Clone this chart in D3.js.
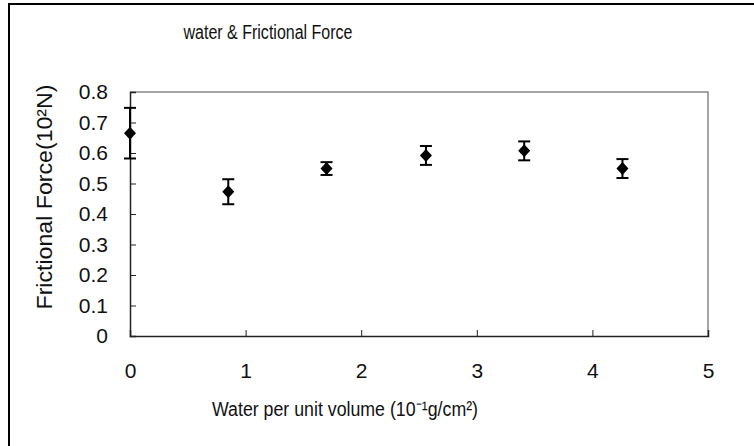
<!DOCTYPE html>
<html>
<head>
<meta charset="utf-8">
<script src="https://cdn.jsdelivr.net/npm/d3@7"></script>
<style>
  body { margin: 0; background: #fff; }
  svg text { font-family: "Liberation Sans Narrow", "Liberation Sans", Arial, sans-serif; fill: #111; }
</style>
</head>
<body>
<div id="chart"></div>
<script>
// data
const waterValues = [0, 0.85, 1.7, 2.56, 3.41, 4.26];
const forceMeans = [0.665, 0.473, 0.549, 0.592, 0.607, 0.549];
const forceErrors = [0.083, 0.041, 0.021, 0.031, 0.031, 0.031];
const xTicks = [0, 1, 2, 3, 4, 5];
const yTicks = [0, 0.1, 0.2, 0.3, 0.4, 0.5, 0.6, 0.7, 0.8];

const W = 754, H = 446;
const margin = {top: 92, right: 46, bottom: 110, left: 130};
const width = W - margin.left - margin.right;
const height = H - margin.top - margin.bottom;

const svg = d3.select('#chart').append('svg')
    .attr('width', W)
    .attr('height', H);

// outer frame (right/bottom run off the picture)
svg.append('rect')
    .attr('x', 9).attr('y', 4)
    .attr('width', W + 20).attr('height', H + 20)
    .attr('fill', 'none')
    .attr('stroke', '#000')
    .attr('stroke-width', 2);

svg.append('text')
    .attr('x', 268).attr('y', 39)
    .attr('text-anchor', 'middle')
    .attr('font-size', 20)
    .attr('textLength', 169)
    .attr('lengthAdjust', 'spacingAndGlyphs')
    .text('water & Frictional Force');

const chartG = svg.append('g')
    .attr('transform', 'translate(' + margin.left + ',' + margin.top + ')');

const x = d3.scaleLinear().domain([0, 5]).range([0, width]);
const y = d3.scaleLinear().domain([0, 0.8]).range([height, 0]);

// top and right borders of plot area
chartG.append('path')
    .attr('d', 'M0,0H' + width + 'V' + height)
    .attr('fill', 'none')
    .attr('stroke', '#888')
    .attr('stroke-width', 1.5);

const xAxis = d3.axisBottom(x).tickValues(xTicks).tickSize(-6).tickPadding(27)
    .tickFormat(d3.format('d'));
const yAxis = d3.axisLeft(y).tickValues(yTicks).tickSize(-6).tickPadding(22)
    .tickFormat(d => d === 0 ? '0' : d3.format('.1f')(d));

const gx = chartG.append('g')
    .attr('transform', 'translate(0,' + height + ')')
    .call(xAxis);
const gy = chartG.append('g').call(yAxis);

[gx, gy].forEach(g => {
    g.select('.domain').attr('stroke', '#222').attr('stroke-width', 1.5);
    g.selectAll('.tick line').attr('stroke', '#222');
    g.selectAll('.tick text')
        .attr('font-size', 21)
        .attr('font-family', '"Liberation Sans", Arial, sans-serif')
        .attr('fill', '#111');
});
gx.selectAll('.tick').filter(d => d === 0 || d === 5).select('line').remove();
gy.selectAll('.tick').filter(d => d === 0 || d === 0.8).select('line').remove();

// error bars
const pts = waterValues.map((v, i) => ({x: v, m: forceMeans[i], e: forceErrors[i]}));
const eb = chartG.selectAll('.err').data(pts).enter().append('g').attr('class', 'err');
eb.append('line')
    .attr('x1', d => x(d.x)).attr('x2', d => x(d.x))
    .attr('y1', d => y(d.m + d.e)).attr('y2', d => y(d.m - d.e))
    .attr('stroke', '#000').attr('stroke-width', 2);
eb.selectAll('.cap').data(d => [[d.x, d.m + d.e], [d.x, d.m - d.e]]).enter()
    .append('line')
    .attr('x1', d => x(d[0]) - 6).attr('x2', d => x(d[0]) + 6)
    .attr('y1', d => y(d[1])).attr('y2', d => y(d[1]))
    .attr('stroke', '#000').attr('stroke-width', 2);

// diamond markers
chartG.selectAll('.pt').data(pts).enter().append('path')
    .attr('class', 'pt')
    .attr('transform', d => 'translate(' + x(d.x) + ',' + y(d.m) + ')')
    .attr('d', 'M0,-6.5L6,0L0,6.5L-6,0Z')
    .attr('fill', '#000');

// axis titles
svg.append('text')
    .attr('transform', 'translate(52,197) rotate(-90)')
    .attr('text-anchor', 'middle')
    .attr('font-size', 22)
    .attr('textLength', 225)
    .attr('lengthAdjust', 'spacingAndGlyphs')
    .text('Frictional Force(10²N)');

svg.append('text')
    .attr('x', 345).attr('y', 416)
    .attr('text-anchor', 'middle')
    .attr('font-size', 20)
    .attr('textLength', 266)
    .attr('lengthAdjust', 'spacingAndGlyphs')
    .text('Water per unit volume (10⁻¹g/cm²)');
</script>
</body>
</html>
